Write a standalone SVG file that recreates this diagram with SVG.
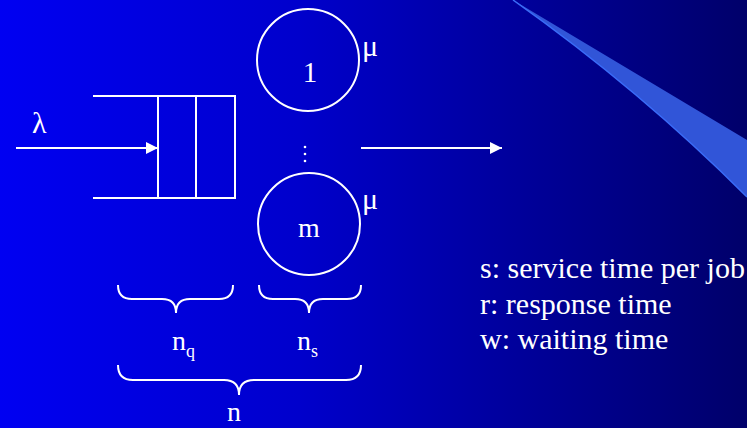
<svg xmlns="http://www.w3.org/2000/svg" width="747" height="428" viewBox="0 0 747 428">
  <defs>
    <linearGradient id="bg" x1="0" y1="0" x2="1" y2="0">
      <stop offset="0" stop-color="#0000f2"/>
      <stop offset="0.4" stop-color="#0000cc"/>
      <stop offset="0.7" stop-color="#00009a"/>
      <stop offset="1" stop-color="#00006a"/>
    </linearGradient>
    <marker id="arrow" viewBox="0 0 12 12" refX="12" refY="6" markerWidth="12" markerHeight="12" markerUnits="userSpaceOnUse" orient="auto">
      <path d="M0,0 L12,6 L0,12 Z" fill="#ffffff"/>
    </marker>
    <style>
      .ln { stroke: #ffffff; stroke-width: 2; fill: none; }
      .t { fill: #ffffff; font-family: "Liberation Serif", "Times New Roman", serif; }
    </style>
  </defs>
  <rect width="747" height="428" fill="url(#bg)"/>
  <path d="M513,0 L747,140 L747,197 Q640,90 513,0 Z" fill="#3155d8"/>
  <path d="M747,197 Q640,90 513,0" fill="none" stroke="#3a6cf8" stroke-width="1.5"/>

  <g id="queue">
    <path class="ln" d="M93,96 H235 V198 H93 M158,96 V198 M196,96 V198"/>
  </g>
  <g id="server1">
    <circle class="ln" cx="308" cy="60" r="51"/>
    <text class="t" x="310" y="82" font-size="29" text-anchor="middle">1</text>
    <text class="t" x="362" y="56" font-size="30">μ</text>
  </g>
  <g id="dots">
    <circle cx="305" cy="147" r="1.3" fill="#ffffff"/>
    <circle cx="305" cy="154" r="1.3" fill="#ffffff"/>
    <circle cx="305" cy="161" r="1.3" fill="#ffffff"/>
  </g>
  <g id="serverm">
    <circle class="ln" cx="309" cy="224" r="51"/>
    <text class="t" x="309" y="237" font-size="28" text-anchor="middle">m</text>
    <text class="t" x="362" y="209" font-size="30">μ</text>
  </g>
  <g id="lambda">
    <text class="t" x="32" y="133" font-size="30">λ</text>
  </g>
  <g id="connectors">
    <line class="ln" x1="16" y1="148" x2="158" y2="148" marker-end="url(#arrow)"/>
    <line class="ln" x1="361" y1="148" x2="502" y2="148" marker-end="url(#arrow)"/>
  </g>
  <g id="braces">
    <path class="ln" d="M118,285 Q118,299 132,299 L162,299 Q176,299 176,313 Q176,299 190,299 L219,299 Q233,299 233,285"/>
    <path class="ln" d="M259,285 Q259,299 273,299 L295,299 Q309,299 309,313 Q309,299 323,299 L347,299 Q361,299 361,285"/>
    <path class="ln" d="M118,365 Q118,380 133,380 L224,380 Q239,380 239,395 Q239,380 254,380 L346,380 Q361,380 361,365"/>
  </g>
  <g id="labels">
    <text class="t" x="172" y="350" font-size="28">n<tspan font-size="18" dy="7">q</tspan></text>
    <text class="t" x="297" y="350" font-size="28">n<tspan font-size="18" dy="7">s</tspan></text>
    <text class="t" x="227" y="421" font-size="28">n</text>
  </g>
  <g id="legend">
    <text class="t" x="480" y="278" font-size="30">s: service time per job</text>
    <text class="t" x="480" y="314" font-size="30">r: response time</text>
    <text class="t" x="480" y="349" font-size="30">w: waiting time</text>
  </g>
</svg>
